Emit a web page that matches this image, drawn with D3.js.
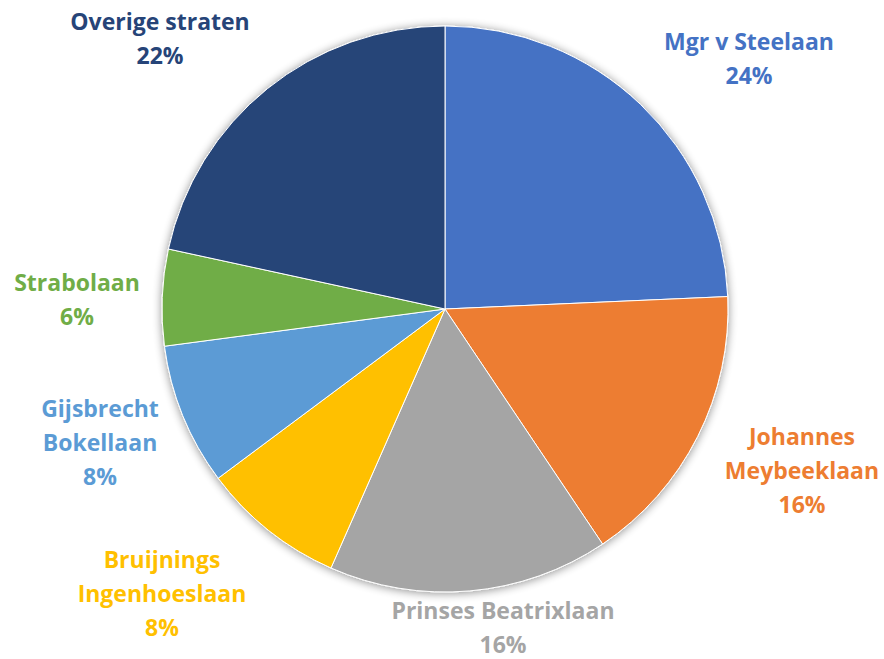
<!DOCTYPE html>
<html>
<head>
<meta charset="utf-8">
<script src="https://cdn.jsdelivr.net/npm/d3@7"></script>
<style>
  body { margin: 0; background: #fff; }
</style>
</head>
<body>
<script>
/* global d3 */

// Data
const streets = ['Mgr v Steelaan', 'Johannes Meybeeklaan', 'Prinses Beatrixlaan',
  'Bruijnings Ingenhoeslaan', 'Gijsbrecht Bokellaan', 'Strabolaan', 'Overige straten'];
const shares = [24.3, 16.3, 16.0, 8.2, 8.1, 5.5, 21.6];
const pctLabels = ['24%', '16%', '16%', '8%', '8%', '6%', '22%'];
const colors = ['#4472C4', '#ED7D31', '#A5A5A5', '#FFC000', '#5B9BD5', '#70AD47', '#264478'];

// Label lines (how each name wraps)
const nameLines = [
  ['Mgr v Steelaan'],
  ['Johannes', 'Meybeeklaan'],
  ['Prinses Beatrixlaan'],
  ['Bruijnings', 'Ingenhoeslaan'],
  ['Gijsbrecht', 'Bokellaan'],
  ['Strabolaan'],
  ['Overige straten']
];

// SVG setup
const width = 884;
const height = 659;
const cx = 445;
const cy = 309;
const radius = 283;
const lineHeight = 34;

// label anchor (first baseline), relative to the pie centre
const labelAt = [
  [304, -259], [357, 136], [58, 310], [-283, 259], [-345, 108], [-368, -18], [-285, -279]
];

const svg = d3.select('body')
.append('svg')
.attr('width', width)
.attr('height', height);

// soft shadow round the pie
const filter = svg.append('defs')
.append('filter')
.attr('id', 'shadow')
.attr('x', '-20%').attr('y', '-20%')
.attr('width', '140%').attr('height', '140%');

filter.append('feGaussianBlur')
.attr('in', 'SourceAlpha')
.attr('stdDeviation', 5)
.attr('result', 'blur');
filter.append('feOffset')
.attr('in', 'blur')
.attr('dy', 1)
.attr('result', 'off');
filter.append('feComponentTransfer')
.append('feFuncA')
.attr('type', 'linear')
.attr('slope', 0.45);
const merge = filter.append('feMerge');
merge.append('feMergeNode');
merge.append('feMergeNode').attr('in', 'SourceGraphic');

const pie = d3.pie()
.value(d => d)
.sort(null);

const arc = d3.arc()
.innerRadius(0)
.outerRadius(radius);

const g = svg.append('g')
.attr('transform', `translate(${ cx },${ cy })`);

g.append('g')
.attr('filter', 'url(#shadow)')
.selectAll('path')
.data(pie(shares))
.enter()
.append('path')
.attr('d', arc)
.attr('fill', (d, i) => colors[i])
.attr('stroke', '#fff')
.attr('stroke-width', 1);

// Labels
const labels = g.selectAll('text.label')
.data(streets)
.enter()
.append('text')
.attr('class', 'label')
.attr('x', (d, i) => labelAt[i][0])
.attr('y', (d, i) => labelAt[i][1])
.attr('text-anchor', 'middle')
.attr('font-family', '"Open Sans", Lato, sans-serif')
.attr('font-weight', 'bold')
.attr('font-size', '23px')
.attr('fill', (d, i) => colors[i]);

labels.each(function (d, i) {
    const lines = nameLines[i].concat([pctLabels[i]]);
    d3.select(this)
    .selectAll('tspan')
    .data(lines)
    .enter()
    .append('tspan')
    .attr('x', labelAt[i][0])
    .attr('dy', (l, j) => j === 0 ? 0 : lineHeight)
    .text(l => l);
});
</script>
</body>
</html>
